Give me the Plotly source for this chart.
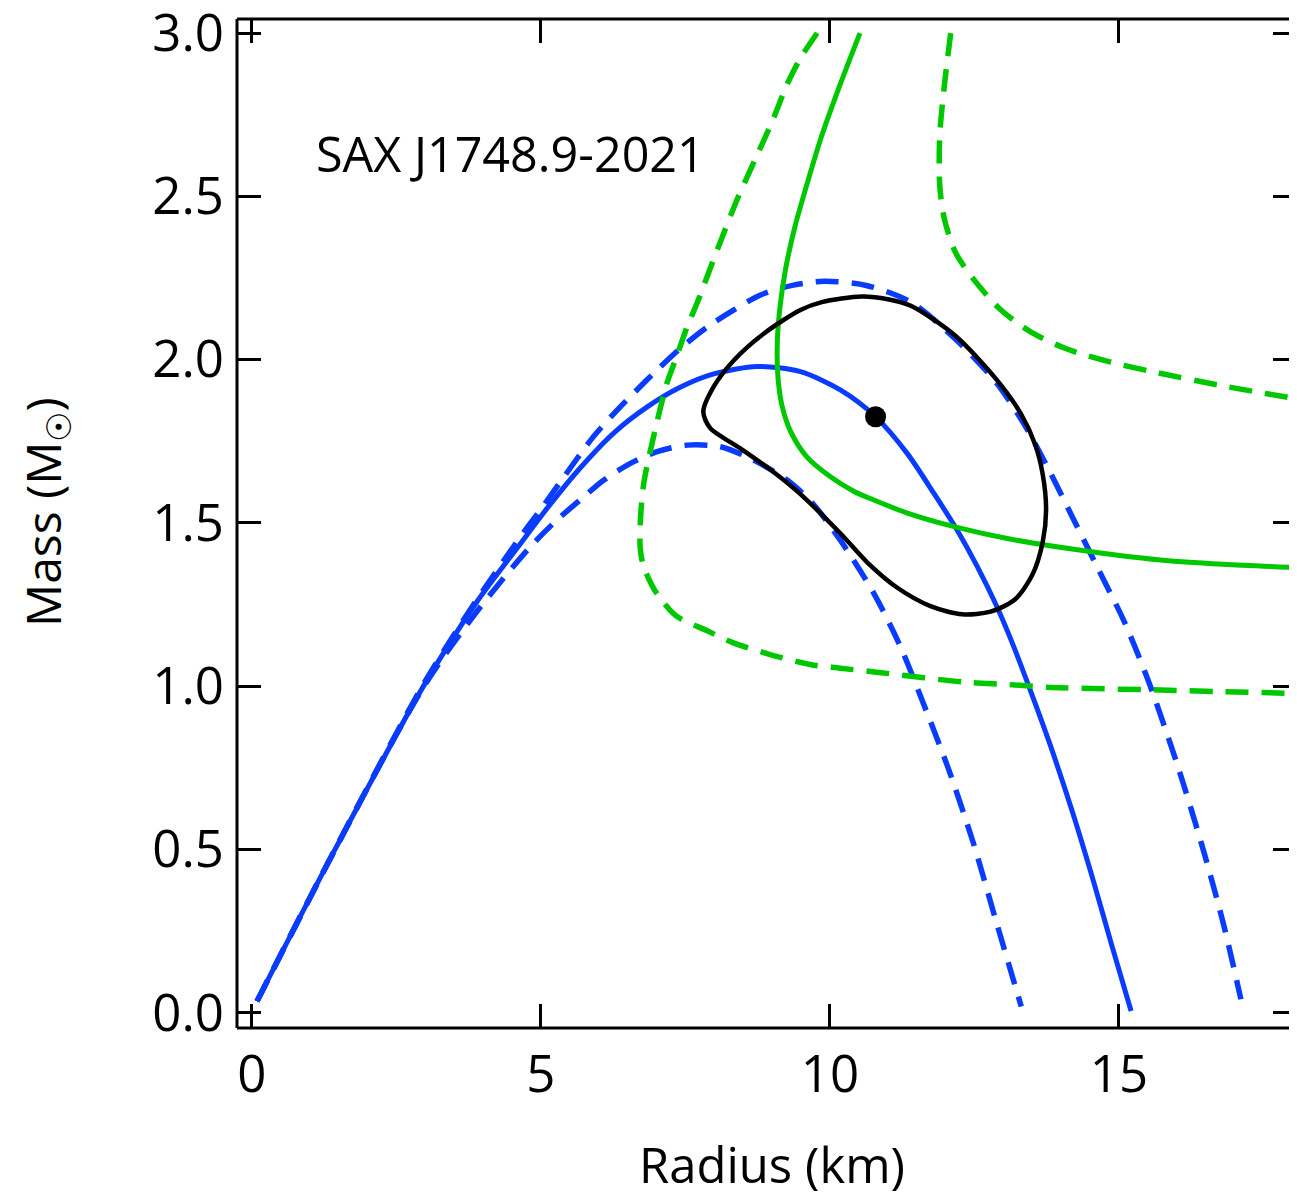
import plotly.graph_objects as go

# ---- data (radius km, mass Msun) ----
blue_mid_r = [0.09, 1.44, 2.97, 3.9, 4.62, 5.11, 5.68, 6.26, 6.84, 7.41, 7.99, 8.74, 9.49, 10.18, 10.79, 11.34, 11.8, 12.2, 12.55, 12.89, 13.18, 13.53, 13.83, 14.2, 14.57, 14.87, 15.21]
blue_mid_m = [0.035, 0.5, 1.0, 1.26, 1.43, 1.545, 1.668, 1.775, 1.855, 1.915, 1.956, 1.979, 1.963, 1.907, 1.825, 1.712, 1.59, 1.478, 1.366, 1.243, 1.121, 0.957, 0.81, 0.612, 0.396, 0.21, 0.005]

blue_hi_r = [0.09, 1.44, 2.95, 3.8, 4.65, 4.99, 5.34, 5.91, 6.32, 6.66, 7.01, 7.41, 7.88, 8.34, 8.8, 9.37, 9.9, 10.63, 11.4, 12.17, 12.89, 13.4, 13.76, 14.22, 14.62, 15.08, 15.5, 15.99, 16.44, 16.81, 17.11]
blue_hi_m = [0.035, 0.5, 1.0, 1.24, 1.458, 1.539, 1.626, 1.764, 1.845, 1.907, 1.968, 2.034, 2.1, 2.152, 2.198, 2.228, 2.24, 2.227, 2.176, 2.063, 1.927, 1.79, 1.672, 1.509, 1.366, 1.202, 1.02, 0.77, 0.51, 0.27, 0.041]

blue_lo_r = [0.09, 1.44, 2.98, 3.9, 4.82, 5.28, 5.68, 6.09, 6.55, 7.01, 7.53, 8.11, 8.68, 9.26, 9.7, 10.18, 10.76, 11.22, 11.57, 12.04, 12.49, 12.86, 13.31]
blue_lo_m = [0.035, 0.5, 1.0, 1.23, 1.427, 1.509, 1.57, 1.631, 1.682, 1.718, 1.738, 1.733, 1.692, 1.631, 1.56, 1.447, 1.284, 1.121, 0.968, 0.752, 0.515, 0.289, 0.019]

green_mid_r = [10.52, 10.17, 9.86, 9.63, 9.4, 9.23, 9.13, 9.09, 9.1, 9.17, 9.32, 9.6, 10.01, 10.41, 10.76, 11.34, 12.2, 13.07, 14.22, 15.72, 16.8, 18.2]
green_mid_m = [3.0, 2.839, 2.686, 2.553, 2.41, 2.274, 2.15, 2.05, 1.95, 1.86, 1.78, 1.702, 1.641, 1.597, 1.57, 1.53, 1.486, 1.452, 1.419, 1.386, 1.373, 1.362]

green_lo_r = [9.78, 9.48, 9.25, 9.02, 8.71, 8.4, 8.17, 7.91, 7.71, 7.53, 7.35, 7.18, 6.95, 6.78, 6.72, 6.72, 6.78, 7.0, 7.34, 7.86, 8.31, 8.98, 9.72, 10.18, 10.84, 12.34, 13.07, 13.83, 15.72, 16.81, 18.2]
green_lo_m = [3.0, 2.92, 2.839, 2.737, 2.614, 2.492, 2.39, 2.27, 2.176, 2.1, 2.01, 1.927, 1.764, 1.621, 1.5, 1.42, 1.365, 1.285, 1.215, 1.171, 1.134, 1.096, 1.064, 1.055, 1.042, 1.012, 1.005, 0.996, 0.988, 0.983, 0.977]

green_hi_r = [12.09, 11.98, 11.9, 11.9, 11.98, 12.17, 12.48, 12.94, 13.48, 14.09, 14.86, 15.63, 16.78, 18.2]
green_hi_m = [3.0, 2.839, 2.686, 2.533, 2.431, 2.329, 2.247, 2.155, 2.084, 2.033, 1.992, 1.961, 1.92, 1.876]

contour_r = [10.55, 11.0, 11.4, 12.17, 12.89, 13.3, 13.55, 13.68, 13.74, 13.68, 13.5, 13.2, 12.78, 12.29, 11.74, 11.16, 10.64, 10.18, 9.49, 9.03, 8.45, 7.93, 7.81, 7.99, 8.34, 8.86, 9.49, 9.86, 10.55]
contour_m = [2.193, 2.185, 2.165, 2.073, 1.937, 1.835, 1.74, 1.65, 1.54, 1.44, 1.34, 1.265, 1.228, 1.22, 1.245, 1.302, 1.38, 1.468, 1.588, 1.655, 1.728, 1.79, 1.84, 1.917, 1.998, 2.08, 2.152, 2.176, 2.193]

best_r = [10.79]
best_m = [1.825]

x_ticks = [0, 5, 10, 15]
y_ticks = [0.0, 0.5, 1.0, 1.5, 2.0, 2.5, 3.0]
y_tick_text = ["0.0", "0.5", "1.0", "1.5", "2.0", "2.5", "3.0"]

BLUE = "#0a3cff"
GREEN = "#00c800"
DASH = "23px,13px"
FONT = "Open Sans"

fig = go.Figure()

def add_line(r, m, color, dash=None, width=5):
    fig.add_trace(go.Scatter(
        x=r, y=m, mode="lines",
        line=dict(color=color, width=width, dash=dash if dash else "solid",
                  shape="spline", smoothing=0.8),
        showlegend=False, hoverinfo="skip"))

add_line(blue_hi_r, blue_hi_m, BLUE, DASH, 5.5)
add_line(blue_lo_r, blue_lo_m, BLUE, DASH, 5.5)
add_line(blue_mid_r, blue_mid_m, BLUE, None, 5)
add_line(green_lo_r, green_lo_m, GREEN, DASH, 5.5)
add_line(green_hi_r, green_hi_m, GREEN, DASH, 5.5)
add_line(green_mid_r, green_mid_m, GREEN, None, 5)
add_line(contour_r, contour_m, "black", None, 4.5)

fig.add_trace(go.Scatter(x=best_r, y=best_m, mode="markers",
                         marker=dict(color="black", size=21),
                         showlegend=False, hoverinfo="skip"))

axis_common = dict(
    showline=False, mirror="ticks", ticks="inside", ticklen=24, tickwidth=3,
    tickcolor="black", showgrid=False, zeroline=False, automargin=False,
    ticklabeloverflow="allow",
    tickfont=dict(family=FONT, size=51, color="black"),
)

fig.update_xaxes(range=[-0.256, 18.08], tickvals=x_ticks,
                 ticktext=[str(v) for v in x_ticks], ticklabelstandoff=12,
                 **axis_common)
fig.update_yaxes(range=[-0.047, 3.043], tickvals=y_ticks, ticktext=y_tick_text,
                 ticklabelstandoff=12, **axis_common)

# frame (left, top, bottom); the right edge lies just past the picture
for x0, y0, x1, y1 in [(0, 0, 0, 1), (0, 1, 1, 1), (0, 0, 1, 0)]:
    fig.add_shape(type="line", xref="paper", yref="paper",
                  x0=x0, y0=y0, x1=x1, y1=y1,
                  line=dict(color="black", width=3), layer="above")

fig.add_annotation(text="SAX J1748.9-2021", xref="paper", yref="paper",
                   x=(510 - 237) / 1060, y=(1028 - 153) / 1009,
                   xanchor="center", yanchor="middle", showarrow=False,
                   font=dict(family=FONT, size=48.5, color="black"))
fig.add_annotation(text="Radius (km)", xref="paper", yref="paper",
                   x=(772 - 237) / 1060, y=(1028 - 1164) / 1009,
                   xanchor="center", yanchor="middle", showarrow=False,
                   font=dict(family=FONT, size=49, color="black"))
fig.add_annotation(text="Mass (M<sub>☉</sub>)", xref="paper", yref="paper",
                   x=(45 - 237) / 1060, y=(1028 - 512) / 1009,
                   xanchor="center", yanchor="middle", textangle=-90,
                   showarrow=False,
                   font=dict(family=FONT, size=48, color="black"))

# page body has an 8px margin: size the figure so the page fits the window
fig.update_layout(
    width=1289, height=1185,
    margin=dict(l=229, r=0, t=11, b=165, autoexpand=False),
    paper_bgcolor="white", plot_bgcolor="white",
)

fig.write_html("out.html")
